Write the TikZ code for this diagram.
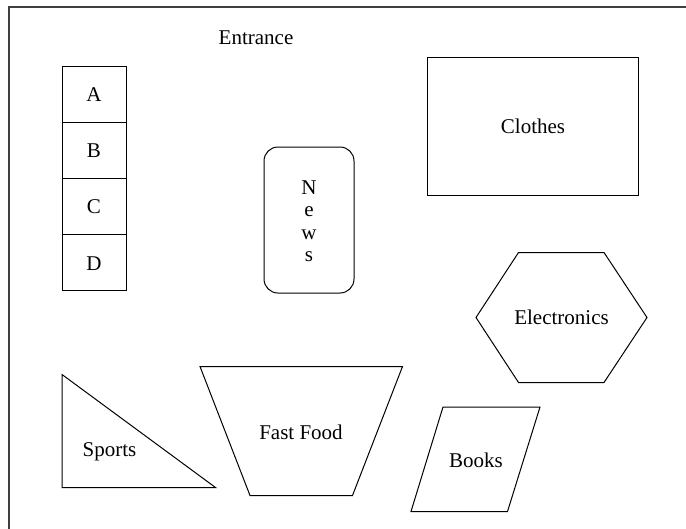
\documentclass[tikz,border=0pt]{standalone}
\usepackage{fontspec}
\setmainfont{Liberation Serif}
\begin{document}
\begin{tikzpicture}[x=1pt,y=-1pt,
  shape line/.style={draw=black,line width=1pt,line join=miter},
  frame line/.style={draw=black!75,line width=1.6pt},
  lbl/.style={anchor=base,inner sep=0pt,font=\fontsize{21}{24}\selectfont}]
\useasboundingbox (0,0) rectangle (686,528);
\clip (0,0) rectangle (686,528);

% outer frame (open to the right and bottom)
\draw[frame line] (9,540) -- (9,7) -- (700,7);

% entrance label
\node[lbl] (entrance) at (256,44.5) {Entrance};

% stacked booths A--D
\draw[shape line] (62,66) rectangle (126,290);
\draw[shape line] (62,122) -- (126,122);
\draw[shape line] (62,178) -- (126,178);
\draw[shape line] (62,234) -- (126,234);
\node[lbl] (boothA) at (94,101.5) {A};
\node[lbl] (boothB) at (94,157.5) {B};
\node[lbl] (boothC) at (94,213.5) {C};
\node[lbl] (boothD) at (94,270.5) {D};

% news stand
\draw[shape line,rounded corners=14pt] (264,147) rectangle (354,293);
\node[lbl] (newsN) at (309,194) {N};
\node[lbl] (newsE) at (309,216.5) {e};
\node[lbl] (newsW) at (309,239) {w};
\node[lbl] (newsS) at (309,261.5) {s};

% clothes
\draw[shape line] (427,57) rectangle (638,195);
\node[lbl] (clothes) at (533,133.5) {Clothes};

% electronics
\draw[shape line] (476,317.5) -- (518.5,252.5) -- (604,252.5) -- (647,317.5)
  -- (604,382.5) -- (518.5,382.5) -- cycle;
\node[lbl] (electronics) at (561.5,324.3) {Electronics};

% sports
\draw[shape line] (62,374.5) -- (62,487.5) -- (215.5,487.5) -- cycle;
\node[lbl] (sports) at (109.5,456.5) {Sports};

% fast food
\draw[shape line] (200,366.5) -- (402.5,366.5) -- (352.5,495.5) -- (250,495.5) -- cycle;
\node[lbl] (fastfood) at (301,439) {Fast Food};

% books
\draw[shape line] (443,407) -- (540,407) -- (507.5,511.5) -- (411,511.5) -- cycle;
\node[lbl] (books) at (476,467) {Books};
\end{tikzpicture}
\end{document}
